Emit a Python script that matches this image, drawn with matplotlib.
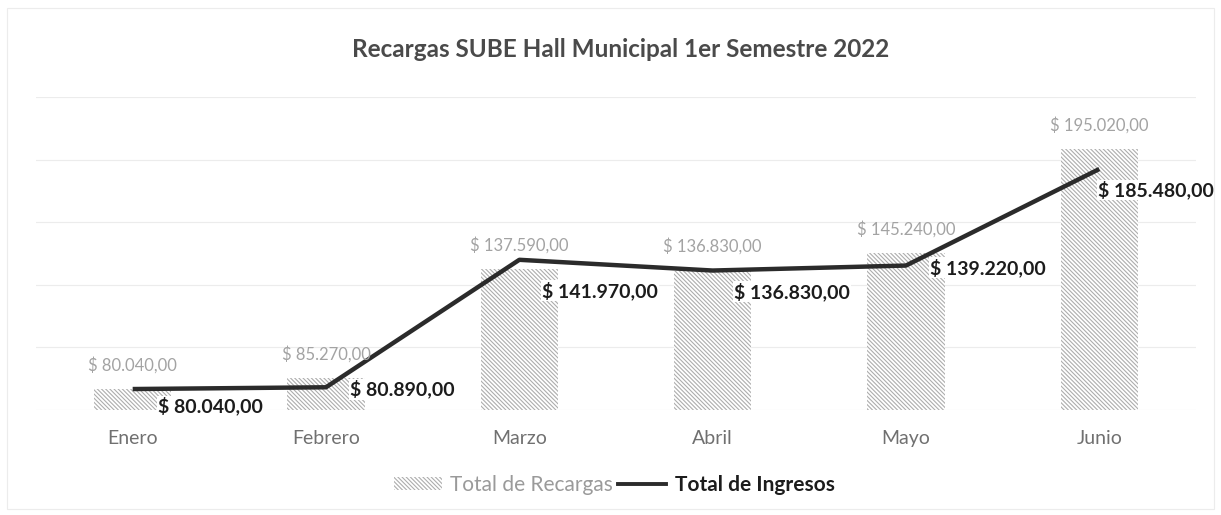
import matplotlib.pyplot as plt
import matplotlib.patches as mpatches
from matplotlib.lines import Line2D

plt.rcParams['font.family'] = ['Lato', 'DejaVu Sans']
plt.rcParams['hatch.linewidth'] = 0.8

# ---- data ----
meses = ['Enero', 'Febrero', 'Marzo', 'Abril', 'Mayo', 'Junio']
total_recargas = [80040, 85270, 137590, 136830, 145240, 195020]
total_ingresos = [80040, 80890, 141970, 136830, 139220, 185480]

# label offsets for the line values (pixels, right / down)
ingresos_offsets = [(25, -17), (24, -2), (23, -31), (21, -21), (24, -2), (-1, -21)]

HATCH = '\\' * 8


def fmt(v):
    s = f"{v:,.2f}".replace(',', 'X').replace('.', ',').replace('X', '.')
    return "$ " + s


fig = plt.figure(figsize=(12.21, 5.15), dpi=100)
ax = fig.add_axes([0.0295, 0.2039, 0.950, 0.6078])

x = list(range(len(meses)))
ax.bar(x, total_recargas, width=0.4, color='white', edgecolor='#adadad',
       hatch=HATCH, linewidth=0, zorder=2)
ax.plot(x, total_ingresos, color='#2b2b2b', lw=3.2, zorder=3,
        solid_capstyle='butt')

ax.set_ylim(70000, 220000)
ax.set_xlim(-0.5, 5.5)
ax.set_yticks(range(70000, 220001, 30000))
ax.yaxis.grid(True, color='#ececec', lw=0.8, zorder=0)
ax.set_axisbelow(True)
for sp in ax.spines.values():
    sp.set_visible(False)
ax.tick_params(left=False, bottom=False, labelleft=False)
ax.set_xticks(x)
ax.set_xticklabels(meses, fontsize=14, color='#707070')
ax.tick_params(axis='x', pad=11)

# bar labels (gray, above)
for xi, v in zip(x, total_recargas):
    ax.annotate(fmt(v), (xi, v), xytext=(0, 24), textcoords='offset pixels',
                ha='center', va='center', fontsize=12, color='#a3a3a3', zorder=4)

# line labels (bold, dark)
for xi, v, (dx, dy) in zip(x, total_ingresos, ingresos_offsets):
    ax.annotate(fmt(v), (xi, v), xytext=(dx, dy), textcoords='offset pixels',
                ha='left', va='center', fontsize=14, fontweight='bold',
                color='#1c1c1c', zorder=5,
                bbox=dict(boxstyle='square,pad=0.05', fc='white', ec='none'))

fig.text(0.508, 0.903, 'Recargas SUBE Hall Municipal 1er Semestre 2022',
         ha='center', va='center', fontsize=17.5, fontweight='bold', color='#4a4a4a')

# legend
h_bar = mpatches.Patch(facecolor='white', edgecolor='#adadad', hatch=HATCH,
                       linewidth=0, label='Total de Recargas')
h_line = Line2D([0], [0], color='#2b2b2b', lw=2.8, label='Total de Ingresos')
leg = fig.legend(handles=[h_bar, h_line], loc='center', bbox_to_anchor=(0.503, 0.058),
                 ncol=2, frameon=False, fontsize=15, handlelength=2.3, handleheight=0.6,
                 handletextpad=0.4, columnspacing=0.25)
txts = leg.get_texts()
txts[0].set_color('#9a9a9a')
txts[1].set_color('#1c1c1c')
txts[1].set_fontweight('bold')

# faint chart border
fig.patches.append(mpatches.Rectangle((0.006, 0.012), 0.988, 0.972, transform=fig.transFigure,
                                      fill=False, ec='#ececec', lw=0.8))

fig.savefig('out.png', dpi=100)
